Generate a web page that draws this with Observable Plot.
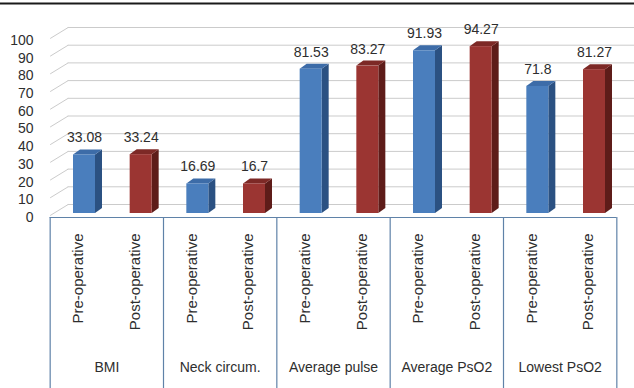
<!DOCTYPE html>
<html><head><meta charset="utf-8">
<script src="https://cdn.jsdelivr.net/npm/d3@7"></script>
<script src="https://cdn.jsdelivr.net/npm/@observablehq/plot@0.6"></script>
<style>html,body{margin:0;background:#fff;overflow:hidden} svg{display:block}</style>
</head><body><div id="chart"></div>
<script>
// ---- data ----
const groups = ["BMI", "Neck circum.", "Average pulse", "Average PsO2", "Lowest PsO2"];
const phases = ["Pre-operative", "Post-operative"];
const preValues = [33.08, 16.69, 81.53, 91.93, 71.8];
const postValues = [33.24, 16.7, 83.27, 94.27, 81.27];
const valueLabels = ["33.08", "33.24", "16.69", "16.7", "81.53", "83.27", "91.93", "94.27", "71.8", "81.27"];
const yTicks = [0, 10, 20, 30, 40, 50, 60, 70, 80, 90, 100];

// ---- layout ----
const W = 634, H = 388;
const X0 = 84, X9 = 594, Y0 = 213, Y100 = 36;
const pxPerX = (X9 - X0) / 9, pxPerY = (Y0 - Y100) / 100;
const ux = p => p / pxPerX, uy = p => p / pxPerY;

const palette = {
  "Pre-operative": {front: "#4a7ebd", top: "#3d6ca8", side: "#2b5182"},
  "Post-operative": {front: "#9b3532", top: "#7d2926", side: "#5e1c19"}
};

const bars = [];
groups.forEach((g, gi) => phases.forEach((p, pi) => {
  const i = gi * 2 + pi;
  bars.push({i, group: g, phase: p, value: pi ? postValues[gi] : preValues[gi], label: valueLabels[i]});
}));

const hw = ux(11), dX = ux(7), dY = uy(5);
const sidePts = bars.flatMap(b => [
  {id: b.i, phase: b.phase, x: b.i + hw, y1: 0, y2: b.value},
  {id: b.i, phase: b.phase, x: b.i + hw + dX, y1: dY, y2: b.value + dY}
]);
const topPts = bars.flatMap(b => [
  {id: b.i, phase: b.phase, x: b.i - hw, y1: b.value, y2: b.value},
  {id: b.i, phase: b.phase, x: b.i - hw + dX, y1: b.value, y2: b.value + dY},
  {id: b.i, phase: b.phase, x: b.i + hw, y1: b.value, y2: b.value + dY},
  {id: b.i, phase: b.phase, x: b.i + hw + dX, y1: b.value + dY, y2: b.value + dY}
]);
const boundaries = d3.range(groups.length + 1).map(k => k * 2 - 0.5);
const groupCenters = groups.map((g, gi) => ({group: g, x: gi * 2 + 0.5}));

const grid = "#cbcbcb", boxColor = "#5f82a8", textColor = "#2e2e2e";

const chart = Plot.plot({
  width: W, height: H,
  marginTop: 3, marginLeft: 0, marginRight: 0, marginBottom: 0,
  style: {fontFamily: "'Liberation Sans', Arial, sans-serif", background: "#fff"},
  x: {type: "linear", domain: [0, 9], range: [X0, X9], axis: null},
  y: {domain: [0, 100], range: [Y0, Y100], label: null},
  color: {type: "identity"},
  marks: [
    Plot.frame({anchor: "top", stroke: "#1a1a1a", strokeWidth: 2}),
    // back wall gridlines
    Plot.ruleY(yTicks, {y: d => d, x1: -0.5 + ux(18), x2: 9 + ux(50), dx: -6, dy: -9, stroke: grid}),
    // left wall gridlines
    Plot.link(yTicks, {x1: -0.5, x2: -0.5 + ux(18), y1: d => d, y2: d => d + uy(11), dx: -6, dy: 2, stroke: grid}),
    // 3D bars
    Plot.areaY(sidePts, {x: "x", y1: "y1", y2: "y2", z: "id", fill: d => palette[d.phase].side, curve: "linear"}),
    Plot.areaY(topPts, {x: "x", y1: "y1", y2: "y2", z: "id", fill: d => palette[d.phase].top, curve: "linear"}),
    Plot.rect(bars, {x1: d => d.i - hw, x2: d => d.i + hw, y1: 0, y2: "value", fill: d => palette[d.phase].front}),
    // value labels
    Plot.text(bars, {x: "i", y: "value", text: "label", dy: -17, fontSize: 14, fill: textColor}),
    // y axis
    Plot.axisY(yTicks, {tickSize: 0, tickPadding: 0, dx: 33, dy: 4, fontSize: 14, color: textColor, label: null}),
    // category axis box
    Plot.ruleY([0], {x1: -0.5, x2: 9.5, dx: -6, dy: 4, stroke: boxColor, strokeWidth: 1.2}),
    Plot.ruleX(boundaries, {x: d => d, y1: 0, y2: -uy(H - Y0 + 20), dx: -6, dy: 4, stroke: boxColor, strokeWidth: 1.2}),
    Plot.text(bars, {x: "i", y: 0, text: "phase", rotate: -90, textAnchor: "end", dx: -6, dy: 20, fontSize: 15, fill: textColor}),
    Plot.text(groupCenters, {x: "x", y: 0, text: "group", dx: -6, dy: 154, fontSize: 14, fill: textColor})
  ]
});
document.getElementById("chart").appendChild(chart);
</script>
</body></html>
